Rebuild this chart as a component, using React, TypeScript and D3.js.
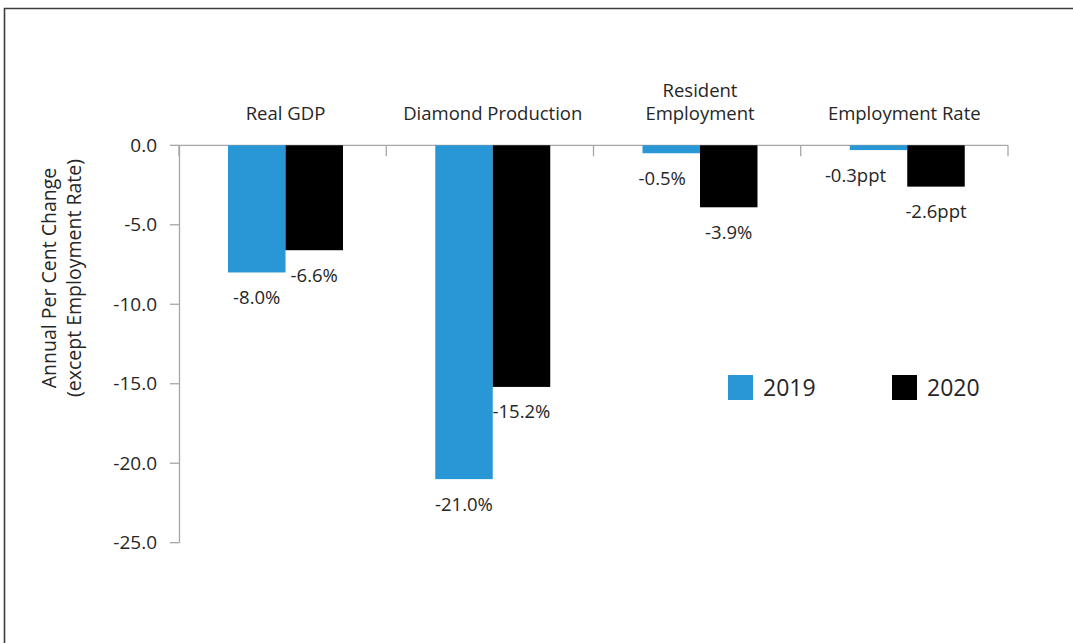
import React from "react";
import * as d3 from "d3";

const categories = ["Real GDP", "Diamond Production", "Resident Employment", "Employment Rate"];
const categoryLines = [["Real GDP"], ["Diamond Production"], ["Resident", "Employment"], ["Employment Rate"]];
const seriesNames = ["2019", "2020"];
const values2019 = [-8.0, -21.0, -0.5, -0.3];
const values2020 = [-6.6, -15.2, -3.9, -2.6];
const labels2019 = ["-8.0%", "-21.0%", "-0.5%", "-0.3ppt"];
const labels2020 = ["-6.6%", "-15.2%", "-3.9%", "-2.6ppt"];
const yTicks = [0, -5, -10, -15, -20, -25];
const colors = ["#2996D6", "#000000"];

const W = 1073;
const H = 643;
const FONT = "'Open Sans', 'Noto Sans', sans-serif";
const TEXT = "#262626";
const AXIS = "#A6A6A6";

export default function App() {
  const y = d3.scaleLinear().domain([-25, 0]).range([542.7, 145.3]);
  const x0 = d3.scaleBand<string>().domain(categories).range([179, 1008]);
  const bw = x0.bandwidth();
  const x1 = d3
    .scaleBand<string>()
    .domain(seriesNames)
    .range([(49 / 207.25) * bw, (164 / 207.25) * bw]);
  const series = [values2019, values2020];
  const labels = [labels2019, labels2020];
  const nudge: Record<string, number> = { "2-0": -9, "3-0": -23 };
  const catShift = [0, 0, 0, -3];

  return (
    <svg
      width={W}
      height={H}
      style={{ position: "absolute", left: 0, top: 0, background: "#fff" }}
      fontFamily={FONT}
    >
      <rect x={0} y={0} width={W} height={H} fill="#fff" />
      <path d={`M4.5,${H + 5}V8.5H${W + 5}`} fill="none" stroke="#3c3c3c" strokeWidth={1.6} />

      {/* y axis */}
      <line x1={179.5} x2={179.5} y1={y(0)} y2={y(-25)} stroke={AXIS} strokeWidth={1.3} />
      {yTicks.map((t) => (
        <g key={t}>
          <line x1={170} x2={179.5} y1={y(t)} y2={y(t)} stroke={AXIS} strokeWidth={1.3} />
          <text x={157} y={y(t)} dy="0.35em" textAnchor="end" fontSize={19} fill={TEXT}>
            {d3.format(".1f")(t).replace("−", "-")}
          </text>
        </g>
      ))}

      {/* x axis at zero */}
      <line x1={179.5} x2={1008} y1={y(0)} y2={y(0)} stroke={AXIS} strokeWidth={1.3} />
      {[...categories.map((c) => x0(c)!), 1008].map((xv, i) => (
        <line key={i} x1={xv} x2={xv} y1={y(0)} y2={y(0) + 11} stroke={AXIS} strokeWidth={1.3} />
      ))}

      {/* bars */}
      {categories.map((c, ci) =>
        seriesNames.map((s, si) => {
          const v = series[si][ci];
          const bx = x0(c)! + x1(s)!;
          return (
            <rect
              key={c + s}
              x={bx}
              y={y(0)}
              width={x1.bandwidth()}
              height={y(v) - y(0)}
              fill={colors[si]}
            />
          );
        })
      )}

      {/* value labels */}
      {categories.map((c, ci) =>
        seriesNames.map((s, si) => {
          const v = series[si][ci];
          const cx = x0(c)! + x1(s)! + x1.bandwidth() / 2 + (nudge[`${ci}-${si}`] || 0);
          return (
            <text
              key={"l" + c + s}
              x={cx}
              y={y(v) + 25}
              dy="0.35em"
              textAnchor="middle"
              fontSize={18.5}
              fill={TEXT}
            >
              {labels[si][ci]}
            </text>
          );
        })
      )}

      {/* category labels */}
      {categories.map((c, ci) => {
        const cx = x0(c)! + (x1.range()[0] + x1.range()[1]) / 2 + catShift[ci];
        const lines = categoryLines[ci];
        return (
          <text key={"c" + c} x={cx} textAnchor="middle" fontSize={18.5} fill={TEXT}>
            {lines.map((ln, li) => (
              <tspan key={li} x={cx} y={120 - (lines.length - 1 - li) * 23}>
                {ln}
              </tspan>
            ))}
          </text>
        );
      })}

      {/* y axis title */}
      <g transform="translate(49,278) rotate(-90)">
        <text x={0} y={0} dy="0.35em" textAnchor="middle" fontSize={19.5} fill={TEXT}>
          Annual Per Cent Change
        </text>
        <text x={0} y={25} dy="0.35em" textAnchor="middle" fontSize={19.5} fill={TEXT}>
          (except Employment Rate)
        </text>
      </g>

      {/* legend */}
      {seriesNames.map((s, si) => {
        const lx = [728, 892][si];
        return (
          <g key={"lg" + s}>
            <rect x={lx} y={375} width={25} height={25} fill={colors[si]} />
            <text x={lx + 35} y={388} dy="0.35em" fontSize={23} fill={TEXT}>
              {s}
            </text>
          </g>
        );
      })}
    </svg>
  );
}
